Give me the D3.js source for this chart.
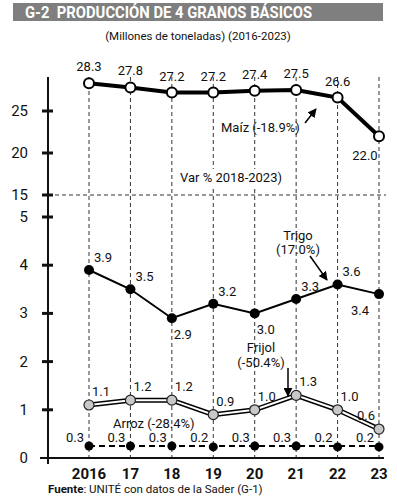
<!DOCTYPE html>
<html>
<head>
<meta charset="utf-8">
<script src="https://cdn.jsdelivr.net/npm/d3@7"></script>
<style>
  body { margin: 0; background: #fff; }
  text { font-family: Roboto, "Liberation Sans", sans-serif; fill: #111; }
</style>
</head>
<body>
<div id="chart"></div>
<script>
// Data (millones de toneladas)
const years = ['2016', '17', '18', '19', '20', '21', '22', '23'];
const maiz = [28.3, 27.8, 27.2, 27.2, 27.4, 27.5, 26.6, 22.0];
const trigo = [3.9, 3.5, 2.9, 3.2, 3.0, 3.3, 3.6, 3.4];
const frijol = [1.1, 1.2, 1.2, 0.9, 1.0, 1.3, 1.0, 0.6];
const arroz = [0.3, 0.3, 0.3, 0.2, 0.3, 0.3, 0.2, 0.2];
const topTicks = [15, 20, 25];
const bottomTicks = [0, 1, 2, 3, 4, 5];

// label placement per point
const trigoPos = ['ur', 'ur', 'br', 'ur', 'br', 'ur', 'ur', 'bl'];
const frijolPos = ['ur', 'ur', 'ur', 'ur', 'ur', 'ur', 'ur', 'ul'];

const width = 397, height = 500;

const svg = d3.select('#chart')
    .append('svg')
    .attr('width', width)
    .attr('height', height);

// Scales: broken axis, two ranges
const x = d3.scalePoint().domain(years).range([89, 379]);
const yTop = d3.scaleLinear().domain([15, 25]).range([195, 111]);
const yBot = d3.scaleLinear().domain([0, 5]).range([458, 217]);

// Title bar
svg.append('rect')
    .attr('x', 13).attr('y', 3)
    .attr('width', 370).attr('height', 18)
    .attr('fill', '#7f7f7f');
svg.append('text')
    .attr('x', 25).attr('y', 18)
    .attr('textLength', 287)
    .attr('lengthAdjust', 'spacingAndGlyphs')
    .style('fill', '#fff')
    .style('font-weight', 'bold')
    .style('font-size', '16px')
    .text('G-2\u00a0\u00a0PRODUCCIÓN DE 4 GRANOS BÁSICOS');

svg.append('text')
    .attr('x', 198).attr('y', 40)
    .attr('text-anchor', 'middle')
    .style('font-size', '11.5px')
    .text('(Millones de toneladas) (2016-2023)');

// Vertical dashed gridlines
svg.append('g')
    .selectAll('line')
    .data(years)
    .join('line')
    .attr('x1', d => x(d)).attr('x2', d => x(d))
    .attr('y1', 77).attr('y2', 458)
    .attr('stroke', '#333')
    .attr('stroke-width', 1)
    .attr('stroke-dasharray', '4,3');

// Break line at 15
svg.append('line')
    .attr('x1', 48).attr('x2', 386)
    .attr('y1', yTop(15)).attr('y2', yTop(15))
    .attr('stroke', '#333')
    .attr('stroke-dasharray', '4,3');

// Var % label with white backing
svg.append('rect')
    .attr('x', 176).attr('y', 169)
    .attr('width', 106).attr('height', 17)
    .attr('fill', '#fff');
svg.append('text')
    .attr('x', 180).attr('y', 182)
    .style('font-size', '13px')
    .text('Var % 2018-2023)');

// Axes
svg.append('line')
    .attr('x1', 48).attr('x2', 48)
    .attr('y1', 77).attr('y2', 464)
    .attr('stroke', '#111').attr('stroke-width', 2);
svg.append('line')
    .attr('x1', 40).attr('x2', 384)
    .attr('y1', 458).attr('y2', 458)
    .attr('stroke', '#111').attr('stroke-width', 2);

function ticks(scale, values) {
    const g = svg.append('g');
    g.selectAll('line')
        .data(values)
        .join('line')
        .attr('x1', 42).attr('x2', 53)
        .attr('y1', d => scale(d)).attr('y2', d => scale(d))
        .attr('stroke', '#111').attr('stroke-width', 3);
    g.selectAll('text')
        .data(values)
        .join('text')
        .attr('x', 28)
        .attr('y', d => scale(d) + 5)
        .attr('text-anchor', 'end')
        .style('font-size', '15px')
        .text(d => d);
}
ticks(yTop, topTicks);
ticks(yBot, bottomTicks.filter(d => d > 0));
svg.append('text')
    .attr('x', 28).attr('y', yBot(0) + 5)
    .attr('text-anchor', 'end')
    .style('font-size', '15px')
    .text('0');

// X labels
svg.append('g')
    .selectAll('text')
    .data(years)
    .join('text')
    .attr('x', d => x(d))
    .attr('y', 479)
    .attr('text-anchor', 'middle')
    .style('font-size', '15px')
    .style('font-weight', 'bold')
    .text(d => d);

// Source
const src = svg.append('text')
    .attr('x', 48).attr('y', 493)
    .style('font-size', '11.5px');
src.append('tspan').style('font-weight', 'bold').text('Fuente');
src.append('tspan').text(': UNITÉ con datos de la Sader (G-1)');

const line = scale => d3.line()
    .x((d, i) => x(years[i]))
    .y(d => scale(d));

// Maíz
svg.append('path')
    .datum(maiz)
    .attr('d', line(yTop))
    .attr('fill', 'none')
    .attr('stroke', '#000')
    .attr('stroke-width', 4);
svg.append('g')
    .selectAll('circle')
    .data(maiz)
    .join('circle')
    .attr('cx', (d, i) => x(years[i]))
    .attr('cy', d => yTop(d))
    .attr('r', 5)
    .attr('fill', '#fff')
    .attr('stroke', '#000')
    .attr('stroke-width', 2);
svg.append('g')
    .selectAll('text')
    .data(maiz)
    .join('text')
    .attr('x', (d, i) => i === 7 ? x(years[i]) - 14 : x(years[i]))
    .attr('y', (d, i) => i === 7 ? yTop(d) + 24 : yTop(d) - 12)
    .attr('text-anchor', 'middle')
    .style('font-size', '13px')
    .text(d => d.toFixed(1));

// Trigo
svg.append('path')
    .datum(trigo)
    .attr('d', line(yBot))
    .attr('fill', 'none')
    .attr('stroke', '#000')
    .attr('stroke-width', 2);
svg.append('g')
    .selectAll('circle')
    .data(trigo)
    .join('circle')
    .attr('cx', (d, i) => x(years[i]))
    .attr('cy', d => yBot(d))
    .attr('r', 5)
    .attr('fill', '#000');
svg.append('g')
    .selectAll('text')
    .data(trigo)
    .join('text')
    .attr('x', (d, i) => {
        const p = trigoPos[i];
        return p === 'bl' ? x(years[i]) - 28 : x(years[i]) + (p === 'br' ? 2 : 5);
    })
    .attr('y', (d, i) => trigoPos[i][0] === 'b' ? yBot(d) + 21 : yBot(d) - 8)
    .style('font-size', '13px')
    .text(d => d.toFixed(1));

// Frijol (double line)
svg.append('path')
    .datum(frijol)
    .attr('d', line(yBot))
    .attr('fill', 'none')
    .attr('stroke', '#000')
    .attr('stroke-width', 5);
svg.append('path')
    .datum(frijol)
    .attr('d', line(yBot))
    .attr('fill', 'none')
    .attr('stroke', '#fff')
    .attr('stroke-width', 2);
svg.append('g')
    .selectAll('circle')
    .data(frijol)
    .join('circle')
    .attr('cx', (d, i) => x(years[i]))
    .attr('cy', d => yBot(d))
    .attr('r', 5)
    .attr('fill', '#c8c8c8')
    .attr('stroke', '#222')
    .attr('stroke-width', 1.2);
svg.append('g')
    .selectAll('text')
    .data(frijol)
    .join('text')
    .attr('x', (d, i) => frijolPos[i] === 'ul' ? x(years[i]) - 22 : x(years[i]) + 3)
    .attr('y', d => yBot(d) - 9)
    .style('font-size', '13px')
    .text(d => d.toFixed(1));

// Arroz (dashed)
svg.append('path')
    .datum(arroz)
    .attr('d', d3.line().x((d, i) => x(years[i])).y(() => yBot(0.25)))
    .attr('fill', 'none')
    .attr('stroke', '#000')
    .attr('stroke-width', 2)
    .attr('stroke-dasharray', '6,4');
svg.append('g')
    .selectAll('circle')
    .data(arroz)
    .join('circle')
    .attr('cx', (d, i) => x(years[i]))
    .attr('cy', d => yBot(d < 0.25 ? 0.23 : 0.25))
    .attr('r', 4.5)
    .attr('fill', '#000');
svg.append('g')
    .selectAll('text')
    .data(arroz)
    .join('text')
    .attr('x', (d, i) => x(years[i]) - 5)
    .attr('y', 442)
    .attr('text-anchor', 'end')
    .style('font-size', '13px')
    .text(d => d.toFixed(1));

// Annotations
svg.append('defs').append('marker')
    .attr('id', 'arrow')
    .attr('viewBox', '0 0 10 10')
    .attr('refX', 9).attr('refY', 5)
    .attr('markerWidth', 6).attr('markerHeight', 6)
    .attr('orient', 'auto')
    .append('path')
    .attr('d', 'M0,0 L10,5 L0,10 z')
    .attr('fill', '#000');

function arrow(x1, y1, x2, y2) {
    svg.append('line')
        .attr('x1', x1).attr('y1', y1)
        .attr('x2', x2).attr('y2', y2)
        .attr('stroke', '#000')
        .attr('stroke-width', 1.5)
        .attr('marker-end', 'url(#arrow)');
}

svg.append('text')
    .attr('x', 221).attr('y', 132)
    .style('font-size', '13px')
    .text('Maíz (-18.9%)');
arrow(305, 123, 316, 109);

svg.append('text')
    .attr('x', 298).attr('y', 240)
    .attr('text-anchor', 'middle')
    .style('font-size', '13px')
    .text('Trigo');
svg.append('text')
    .attr('x', 298).attr('y', 254)
    .attr('text-anchor', 'middle')
    .style('font-size', '13px')
    .text('(17.0%)');
arrow(310, 256, 327, 280);

svg.append('text')
    .attr('x', 261).attr('y', 352)
    .attr('text-anchor', 'middle')
    .style('font-size', '13px')
    .text('Frijol');
svg.append('text')
    .attr('x', 261).attr('y', 367)
    .attr('text-anchor', 'middle')
    .style('font-size', '13px')
    .text('(-50.4%)');
arrow(288, 368, 288, 396);

svg.append('text')
    .attr('x', 113).attr('y', 428)
    .style('font-size', '13px')
    .text('Arroz (-28.4%)');
</script>
</body>
</html>
